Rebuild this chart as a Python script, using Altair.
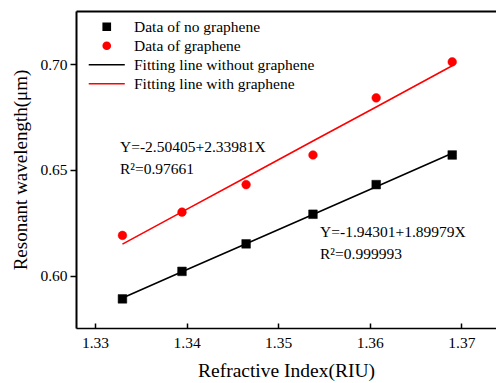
import altair as alt
import pandas as pd

# Refractive index (RIU)
ri = [1.333, 1.3395, 1.3465, 1.3538, 1.3607, 1.369]
# Resonant wavelength (um) data
wl_no_graphene = [0.589, 0.602, 0.615, 0.629, 0.643, 0.657]
wl_graphene = [0.619, 0.630, 0.643, 0.657, 0.684, 0.701]
# Fitting lines
fit_no_graphene = [0.5894, 0.6018, 0.6151, 0.6289, 0.6420, 0.6578]
fit_graphene = [0.6149, 0.6301, 0.6465, 0.6636, 0.6797, 0.6992]

series = ["Data of no graphene", "Data of graphene",
          "Fitting line without graphene", "Fitting line with graphene"]

ann_text = ["Y=-2.50405+2.33981X", "R²=0.97661", "Y=-1.94301+1.89979X", "R²=0.999993"]
ann_x = [1.33273, 1.33273, 1.35457, 1.35457]
ann_y = [0.6608, 0.6504, 0.6208, 0.6102]

x_ticks = [1.33, 1.34, 1.35, 1.36, 1.37]
y_ticks = [0.60, 0.65, 0.70]
x_domain = [1.32793, 1.37378]
y_domain = [0.57524, 0.72505]

pts = pd.DataFrame({
    "ri": ri + ri,
    "wl": wl_no_graphene + wl_graphene,
    "series": [series[0]] * len(ri) + [series[1]] * len(ri),
})
lines = pd.DataFrame({
    "ri": ri + ri,
    "wl": fit_no_graphene + fit_graphene,
    "series": [series[2]] * len(ri) + [series[3]] * len(ri),
})
ann = pd.DataFrame({"ri": ann_x, "wl": ann_y, "text": ann_text})

FONT = "Liberation Serif"
LABEL_FONT = alt.ExprRef(expr="'Liberation Serif'")

xscale = alt.Scale(domain=x_domain, nice=False, zero=False)
yscale = alt.Scale(domain=y_domain, nice=False, zero=False)

legend = alt.Legend(
    title=None, orient="none", legendX=23, legendY=8,
    symbolSize=50, symbolStrokeWidth=1.6, labelOffset=19.5,
    labelFont=LABEL_FONT, labelFontSize=15.5, labelColor="black",
    rowPadding=2, padding=0, labelLimit=400,
)

fill_scale = alt.Scale(domain=series, range=["black", "red", "transparent", "transparent"])
stroke_scale = alt.Scale(domain=series, range=["black", "red", "black", "red"])
shape_scale = alt.Scale(domain=series, range=["square", "circle", "M-5.1,0L5.1,0", "M-5.1,0L5.1,0"])

y_enc = alt.Y("wl:Q", scale=yscale, axis=alt.Axis(
    title="Resonant wavelength(μm)", values=y_ticks, format=".2f",
    tickSize=6, tickWidth=1.5, tickColor="black", domainWidth=2, domainColor="black",
    labelFont=LABEL_FONT, labelFontSize=15.5, labelColor="black", labelPadding=3,
    titleFont=FONT, titleFontSize=19, titleFontWeight="normal", titleColor="black",
    titlePadding=9, grid=False,
))

points = alt.Chart(pts).mark_point(filled=True, size=75, strokeWidth=0.5, opacity=1).encode(
    x=alt.X("ri:Q", scale=xscale, axis=alt.Axis(
        title="Refractive Index(RIU)", values=x_ticks, format=".2f",
        ticks=False, domainWidth=1.5, domainColor="black",
        labelFont=LABEL_FONT, labelFontSize=15.5, labelColor="black", labelPadding=7,
        titleFont=FONT, titleFontSize=19.5, titleFontWeight="normal", titleColor="black",
        titlePadding=11, grid=False,
    )),
    y=y_enc,
    fill=alt.Fill("series:N", scale=fill_scale, legend=legend),
    stroke=alt.Stroke("series:N", scale=stroke_scale, legend=legend),
    shape=alt.Shape("series:N", scale=shape_scale, legend=legend),
)

fits = alt.Chart(lines).mark_line(strokeWidth=1.6).encode(
    x=alt.X("ri:Q", scale=xscale, axis=alt.Axis(
        orient="top", offset=-317, values=x_ticks, labels=False, domain=False,
        ticks=True, tickSize=5, tickWidth=1.5, tickColor="black", title=None, grid=False,
    )),
    y=alt.Y("wl:Q", scale=yscale),
    stroke=alt.Stroke("series:N", scale=stroke_scale, legend=legend),
)

texts = alt.Chart(ann).mark_text(
    align="left", baseline="middle", font=FONT, fontSize=15.5, color="black"
).encode(
    x=alt.X("ri:Q", scale=xscale, axis=alt.Axis(
        orient="top", labels=False, ticks=False, domain=True, domainWidth=2,
        domainColor="black", title=None, grid=False,
    )),
    y=alt.Y("wl:Q", scale=yscale),
    text="text:N",
)

chart = alt.layer(fits, points, texts).resolve_axis(x="independent").properties(
    width=420, height=317,
    autosize=alt.AutoSizeParams(type="none"),
    padding={"left": 76, "top": 11, "right": 0, "bottom": 55},
).configure_view(stroke=None).configure(
    background="white", font=FONT,
    style={"guide-label": {"font": FONT, "fontSize": 15.5, "fill": "black"},
           "guide-title": {"font": FONT}},
)

chart.save("out.html", embed_options={"renderer": "svg", "actions": False})
